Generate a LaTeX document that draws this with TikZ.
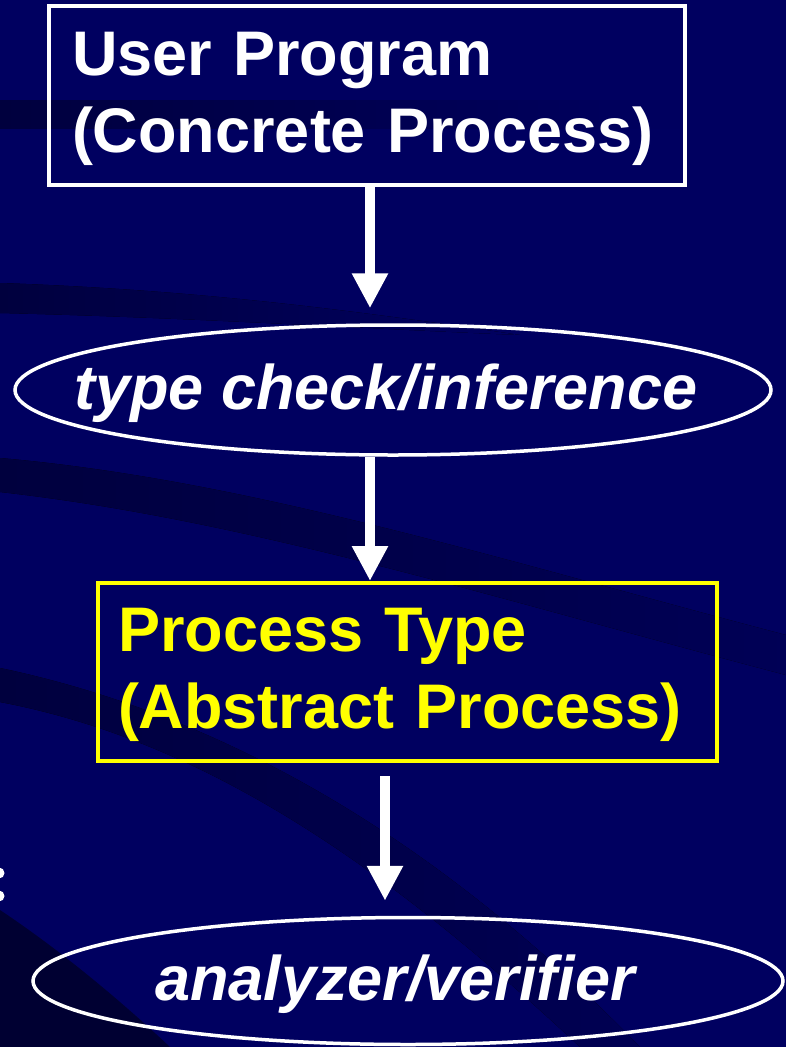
\documentclass[tikz,border=0pt]{standalone}
\usepackage{fontspec}
\setmainfont{Liberation Sans}
\usetikzlibrary{shapes.geometric,arrows.meta}
\definecolor{slidebg}{RGB}{0,0,96}
\definecolor{swoosh}{RGB}{0,0,62}
\definecolor{boxyellow}{RGB}{255,255,0}
\begin{document}
\begin{tikzpicture}[
    x=1pt, y=-1pt,
    >={Triangle[width=34pt,length=35pt]},
    block/.style={rectangle, line width=4pt, inner sep=0pt},
    blocktext/.style={align=left, inner sep=0pt, yshift=-3pt,
      font=\fontsize{63}{77}\selectfont\bfseries},
    oval/.style={ellipse, draw=white, line width=3.5pt, inner sep=0pt},
    ovaltext/.style={text=white, yshift=-3pt, font=\fontsize{63}{77}\selectfont\bfseries\itshape},
    flow/.style={->, white, line width=10pt}
  ]
  % Background
  \fill[slidebg] (0,0) rectangle (786,1047);
  \useasboundingbox (0,0) rectangle (786,1047);
  \fill[left color=swoosh, right color=slidebg] (0,100) rectangle (690,128);
  \fill[left color=swoosh, right color=slidebg] (0,283) .. controls (200,290) and (350,310) .. (520,335)
    .. controls (350,328) and (200,318) .. (0,313) -- cycle;
  \fill[left color=swoosh, right color=slidebg!70!swoosh] (0,458) .. controls (250,480) and (500,560) .. (786,635)
    -- (786,675) .. controls (500,600) and (250,520) .. (0,492) -- cycle;
  \fill[left color=swoosh, right color=slidebg!60!swoosh] (0,668) .. controls (200,710) and (420,820) .. (640,1047)
    -- (580,1047) .. controls (380,860) and (200,740) .. (0,702) -- cycle;
  \fill[swoosh!80!black] (0,910) .. controls (60,950) and (120,1000) .. (170,1047) -- (0,1047) -- cycle;
  \fill[white] (-1,873) circle (5.5pt) (-1,896) circle (5.5pt);

  % Blocks
  \node [block, draw=white, minimum width=636pt, minimum height=179pt,
    label={[blocktext, text=white, text width=590pt]center:{User Program\\(Concrete Process)}}]
    (prog) at (367,95.5) {};
  \node [oval, minimum width=756pt, minimum height=130pt,
    label={[ovaltext, xshift=-7pt]center:type check/inference}] (check) at (393,390) {};
  \node [block, draw=boxyellow, minimum width=619pt, minimum height=178pt,
    label={[blocktext, text=boxyellow, text width=579pt]center:{Process Type\\(Abstract Process)}}]
    (ptype) at (407.5,672) {};
  \node [oval, minimum width=750pt, minimum height=127pt,
    label={[ovaltext, xshift=-13pt]center:analyzer/verifier}] (verify) at (408,981) {};

  % Connections
  \draw [flow] ([xshift=3pt]prog.south) -- ([xshift=-23pt,yshift=15pt]check.north);
  \draw [flow] ([xshift=-23pt]check.south) -- ([xshift=-37.5pt]ptype.north);
  \draw [flow] ([xshift=-22.5pt,yshift=-13pt]ptype.south) -- ([xshift=-23pt,yshift=15pt]verify.north);
\end{tikzpicture}
\end{document}
